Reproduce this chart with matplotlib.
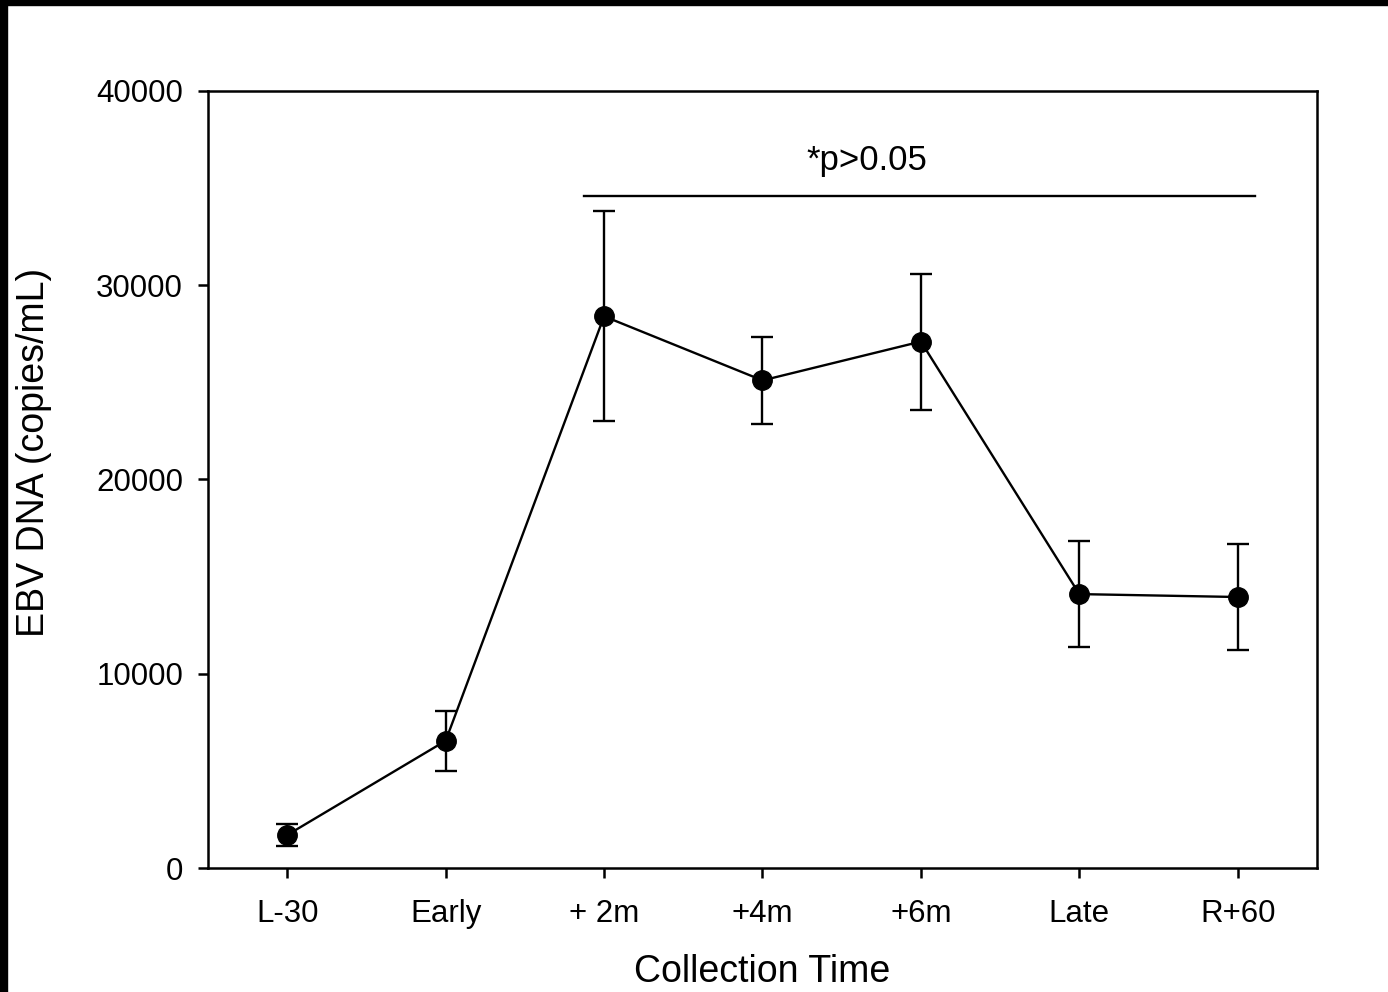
import matplotlib
matplotlib.use('Agg')
from matplotlib import pyplot as plt
from matplotlib.patches import Rectangle

plt.rcParams['font.family'] = ['Liberation Sans', 'DejaVu Sans']

times = ['L-30', 'Early', '+ 2m', '+4m', '+6m', 'Late', 'R+60']
ebv_mean = [1700, 6550, 28400, 25100, 27100, 14100, 13950]
ebv_err = [550, 1550, 5400, 2250, 3500, 2730, 2750]
y_ticks = [0, 10000, 20000, 30000, 40000]

fig = plt.figure(figsize=(13.88, 9.92), dpi=100)
ax = fig.add_axes([0.1499, 0.125, 0.7989, 0.7833])

x = list(range(len(times)))
ax.errorbar(x, ebv_mean, yerr=ebv_err, color='black', marker='o',
            markersize=14, linewidth=1.7, elinewidth=1.7, capsize=8,
            capthick=1.7)

# significance bar
ax.plot([1.876, 6.11], [34590, 34590], color='black', linewidth=1.7)
ax.text(3.66, 35550, '*p>0.05', ha='center', va='bottom', fontsize=25)

ax.set_xlim(-0.5, 6.5)
ax.set_ylim(0, 40000)
ax.set_xticks(x)
ax.set_xticklabels(times)
ax.set_yticks(y_ticks)
ax.set_yticklabels([str(v) for v in y_ticks])
ax.tick_params(axis='both', labelsize=22.5, length=7, width=1.8, direction='out',
               top=False, right=False)
ax.tick_params(axis='x', pad=15)
ax.tick_params(axis='y', pad=11)
for s in ax.spines.values():
    s.set_linewidth(1.8)

ax.set_xlabel('Collection Time', fontsize=27, va='center')
ax.xaxis.set_label_coords(0.5, -0.134)
ax.set_ylabel('EBV DNA (copies/mL)', fontsize=27, va='center')
ax.yaxis.set_label_coords(-0.157, 0.535)

# black frame strips at left and top of the image
fig.patches.append(Rectangle((0, 0), 7 / 1388, 1, transform=fig.transFigure,
                             color='black', zorder=10))
fig.patches.append(Rectangle((0, 1 - 5 / 992), 1, 5 / 992,
                             transform=fig.transFigure, color='black', zorder=10))

fig.savefig('out.png', dpi=100)
